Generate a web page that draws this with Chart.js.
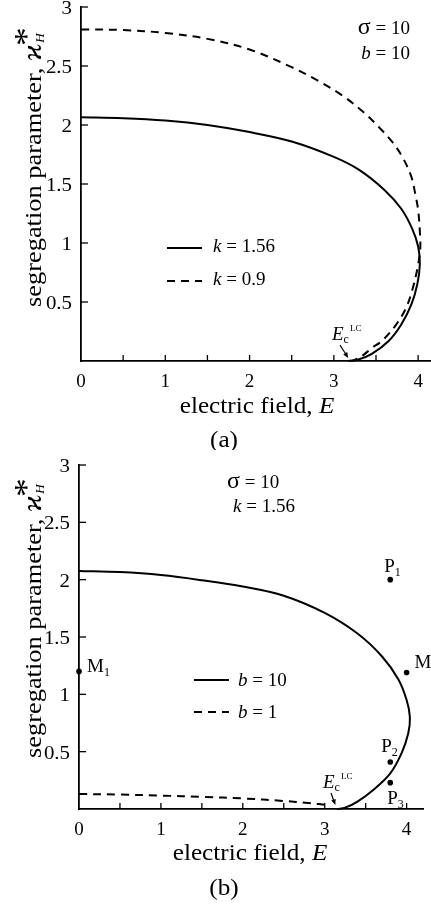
<!DOCTYPE html>
<html lang="en">
<head>
  <meta charset="UTF-8">
  <title>Segregation parameter vs electric field</title>
  <script src="https://cdn.jsdelivr.net/npm/chart.js"></script>
  <style>
    html, body {
      margin: 0;
      background: #fff;
      overflow: hidden;
      font-family: 'Liberation Serif', serif;
    }
    canvas {
      position: absolute;
      left: 0;
    }
    #chartA { top: 0; }
    #chartB { top: 450px; }
    #warm {
      position: absolute;
      left: -999px;
      top: 0;
    }
  </style>
</head>
<body>
  <div id="warm">abc <i>Ek</i> &#963; &#1008;</div>
  <canvas id="chartA" width="440" height="450"></canvas>
  <canvas id="chartB" width="440" height="457"></canvas>

  <script>
    // axis ticks
    const xTicks = [0, 0.5, 1, 1.5, 2, 2.5, 3, 3.5, 4];
    const xTickLabels = ['0', '', '1', '', '2', '', '3', '', '4'];
    const yTicks = [0.5, 1, 1.5, 2, 2.5, 3];
    const yTickLabels = ['0.5', '1', '1.5', '2', '2.5', '3'];

    // panel (a): sigma = 10, b = 10
    const aSolidE = [0, 0.5, 1, 1.5, 2, 2.5, 3, 3.3, 3.6, 3.8, 3.93, 4.0, 4.02, 3.99, 3.92, 3.8, 3.65, 3.45, 3.3, 3.17];
    const aSolidH = [2.066, 2.058, 2.038, 2.0, 1.94, 1.86, 1.73, 1.62, 1.45, 1.29, 1.12, 0.97, 0.82, 0.65, 0.48, 0.31, 0.17, 0.06, 0.015, 0];
    const aDashE = [0, 0.5, 1, 1.5, 2, 2.5, 2.8, 3.1, 3.35, 3.55, 3.7, 3.82, 3.92, 3.97, 4.0, 4.02, 4.025, 3.99, 3.93, 3.85, 3.72, 3.57, 3.45, 3.33, 3.22];
    const aDashH = [2.81, 2.805, 2.78, 2.73, 2.64, 2.49, 2.38, 2.25, 2.11, 1.97, 1.85, 1.72, 1.56, 1.4, 1.28, 1.1, 0.95, 0.78, 0.6, 0.44, 0.29, 0.17, 0.11, 0.04, 0];

    // panel (b): sigma = 10, k = 1.56
    const bSolidE = [0, 0.5, 1, 1.5, 2, 2.5, 3, 3.4, 3.7, 3.9, 4.0, 4.04, 4.02, 3.94, 3.8, 3.6, 3.4, 3.25, 3.15];
    const bSolidH = [2.076, 2.066, 2.04, 1.995, 1.94, 1.86, 1.71, 1.53, 1.33, 1.13, 0.95, 0.8, 0.66, 0.49, 0.31, 0.17, 0.065, 0.012, 0];
    const bDashE = [0, 0.5, 1, 1.5, 2, 2.5, 2.8, 3.05];
    const bDashH = [0.131, 0.126, 0.117, 0.106, 0.092, 0.07, 0.052, 0.033];

    // marked states in panel (b)
    const ptNames = ['P1', 'M', 'M1', 'P2', 'P3'];
    const ptE = [3.8, 4.0, 0, 3.8, 3.8];
    const ptH = [2.0, 1.19, 1.2, 0.41, 0.23];

    const SERIF = "'Liberation Serif', 'Times New Roman', serif";
    function fnt(size, italic) {
      return (italic ? 'italic ' : '') + size + 'px ' + SERIF;
    }
    function pts(xs, ys) {
      return xs.map((v, i) => ({x: v, y: ys[i]}));
    }

    // draws a row of text pieces (for italic letters, sub/superscripts)
    function runText(ctx, parts, x, y, align, sx) {
      sx = sx || 1;
      let w = 0;
      parts.forEach(p => { ctx.font = p[1]; w += ctx.measureText(p[0]).width + (p[3] || 0); });
      let cx = align === 'right' ? -w : align === 'center' ? -w / 2 : 0;
      ctx.save();
      ctx.translate(x, y);
      ctx.scale(sx, 1);
      ctx.textAlign = 'left';
      ctx.textBaseline = 'alphabetic';
      ctx.fillStyle = '#000';
      parts.forEach(p => {
        ctx.font = p[1];
        cx += p[3] || 0;
        ctx.fillText(p[0], cx, p[2] || 0);
        cx += ctx.measureText(p[0]).width;
      });
      ctx.restore();
    }

    function line(ctx, x1, y1, x2, y2, dash) {
      ctx.save();
      ctx.setLineDash(dash || []);
      ctx.beginPath();
      ctx.moveTo(x1, y1);
      ctx.lineTo(x2, y2);
      ctx.stroke();
      ctx.restore();
    }

    function arrow(ctx, x1, y1, x2, y2) {
      const ang = Math.atan2(y2 - y1, x2 - x1);
      ctx.save();
      ctx.lineWidth = 1.2;
      line(ctx, x1, y1, x2 - 3 * Math.cos(ang), y2 - 3 * Math.sin(ang));
      ctx.beginPath();
      ctx.moveTo(x2, y2);
      ctx.lineTo(x2 - 6 * Math.cos(ang - 0.4), y2 - 6 * Math.sin(ang - 0.4));
      ctx.lineTo(x2 - 6 * Math.cos(ang + 0.4), y2 - 6 * Math.sin(ang + 0.4));
      ctx.closePath();
      ctx.fill();
      ctx.restore();
    }

    function yTitle(ctx, x, yStart) {
      ctx.save();
      ctx.translate(x, yStart);
      ctx.rotate(-Math.PI / 2);
      runText(ctx, [
        ['segregation parameter, ', fnt(24)],
        ['\u03F0', fnt(28, true)],
        ['*', fnt(34), -4, -2],
        ['H', fnt(12, true), 3, -14]
      ], 0, 0, 'left', 1.1);
      ctx.restore();
    }

    function axesPlugin(extra) {
      return {
        id: 'axesDecor',
        afterDraw(chart) {
          const {ctx, chartArea: area, scales: {x, y}} = chart;
          ctx.save();
          ctx.strokeStyle = '#000';
          ctx.fillStyle = '#000';
          ctx.lineWidth = 1.3;
          xTicks.forEach((v, i) => {
            const px = x.getPixelForValue(v);
            if (v > 0) line(ctx, px, area.bottom, px, area.bottom - 6);
            if (xTickLabels[i]) runText(ctx, [[xTickLabels[i], fnt(19)]], px, area.bottom + 26, 'center');
          });
          yTicks.forEach((v, i) => {
            const py = y.getPixelForValue(v);
            line(ctx, area.left, py, area.left + 7, py);
            runText(ctx, [[yTickLabels[i], fnt(19)]], area.left - 9, py + 7, 'right', 1.1);
          });
          extra(chart, ctx, area, x, y);
          ctx.restore();
        }
      };
    }

    function scaleOpts(min, max) {
      return {
        type: 'linear',
        min: min,
        max: max,
        grid: {display: false, drawTicks: false},
        border: {display: true, color: '#000', width: 1.8},
        ticks: {display: false}
      };
    }

    function curve(data, dash) {
      return {
        data: data,
        showLine: true,
        borderColor: '#000',
        borderWidth: 2,
        borderDash: dash || [],
        pointRadius: 0,
        tension: 0.35,
        fill: false,
        clip: false
      };
    }

    function ecLabel(ctx, ex, ey, tx, ty) {
      runText(ctx, [
        ['E', fnt(19, true)],
        ['c', fnt(12), 3],
        ['LC', fnt(9), -9, 1]
      ], ex, ey, 'left');
      arrow(ctx, ex + 8, ey + 5, tx, ty);
    }

    function build() {
      // panel (a)
      new Chart(document.getElementById('chartA'), {
        type: 'scatter',
        data: {
          datasets: [
            curve(pts(aSolidE, aSolidH)),
            curve(pts(aDashE, aDashH), [8, 6])
          ]
        },
        options: {
          responsive: false,
          animation: false,
          layout: {padding: {left: 81, top: 7, right: 5, bottom: 89}},
          scales: {x: scaleOpts(0, 4.2), y: scaleOpts(0, 3)},
          plugins: {legend: {display: false}, tooltip: {enabled: false}}
        },
        plugins: [axesPlugin((chart, ctx, area, x, y) => {
          runText(ctx, [['electric field, ', fnt(24)], ['E', fnt(24, true)]], 257, 413, 'center', 1.05);
          runText(ctx, [['(a)', fnt(24)]], 224, 447, 'center', 1.05);
          yTitle(ctx, 41, 307);
          runText(ctx, [['\u03C3', fnt(24)], [' = 10', fnt(19)]], 410, 34, 'right');
          runText(ctx, [['b', fnt(19, true)], [' = 10', fnt(19)]], 410, 59, 'right');
          ctx.lineWidth = 2;
          line(ctx, 167, 248, 202, 248);
          line(ctx, 167, 281, 202, 281, [8, 6]);
          runText(ctx, [['k', fnt(19, true)], [' = 1.56', fnt(19)]], 213, 252, 'left');
          runText(ctx, [['k', fnt(19, true)], [' = 0.9', fnt(19)]], 213, 285, 'left');
          ecLabel(ctx, 332, 340, x.getPixelForValue(3.17), area.bottom - 3);
        })]
      });

      // panel (b)
      const labelPos = {P1: [-6, -8], M: [8, -5], M1: [8, 1], P2: [-9, -10], P3: [-3, 21]};
      new Chart(document.getElementById('chartB'), {
        type: 'scatter',
        data: {
          datasets: [
            curve(pts(bSolidE, bSolidH)),
            curve(pts(bDashE, bDashH), [8, 6]),
            {
              data: pts(ptE, ptH),
              pointRadius: 2.8,
              pointBackgroundColor: '#000',
              pointBorderWidth: 0,
              showLine: false,
              clip: false
            }
          ]
        },
        options: {
          responsive: false,
          animation: false,
          layout: {padding: {left: 79, top: 15, right: 17, bottom: 98}},
          scales: {x: scaleOpts(0, 4.2), y: scaleOpts(0, 3)},
          plugins: {legend: {display: false}, tooltip: {enabled: false}}
        },
        plugins: [axesPlugin((chart, ctx, area, x, y) => {
          runText(ctx, [['electric field, ', fnt(24)], ['E', fnt(24, true)]], 250, 410, 'center', 1.05);
          runText(ctx, [['(b)', fnt(24)]], 224, 445, 'center', 1.05);
          yTitle(ctx, 41, 308);
          runText(ctx, [['\u03C3', fnt(24)], [' = 10', fnt(19)]], 227, 38, 'left');
          runText(ctx, [['k', fnt(19, true)], [' = 1.56', fnt(19)]], 233, 62, 'left');
          ctx.lineWidth = 2;
          line(ctx, 194, 230, 229, 230);
          line(ctx, 194, 262, 229, 262, [8, 6]);
          runText(ctx, [['b', fnt(19, true)], [' = 10', fnt(19)]], 238, 236, 'left');
          runText(ctx, [['b', fnt(19, true)], [' = 1', fnt(19)]], 238, 268, 'left');
          ptNames.forEach((n, i) => {
            const px = x.getPixelForValue(ptE[i]);
            const py = y.getPixelForValue(ptH[i]);
            const off = labelPos[n];
            const parts = [[n[0], fnt(19)]];
            if (n.length > 1) parts.push([n.slice(1), fnt(12), 4]);
            runText(ctx, parts, px + off[0], py + off[1], 'left');
          });
          ecLabel(ctx, 323, 338, x.getPixelForValue(3.13), area.bottom - 4);
        })]
      });
    }

    Promise.all([
      document.fonts.load(fnt(19)),
      document.fonts.load(fnt(19, true))
    ]).then(build, build);
  </script>
</body>
</html>
